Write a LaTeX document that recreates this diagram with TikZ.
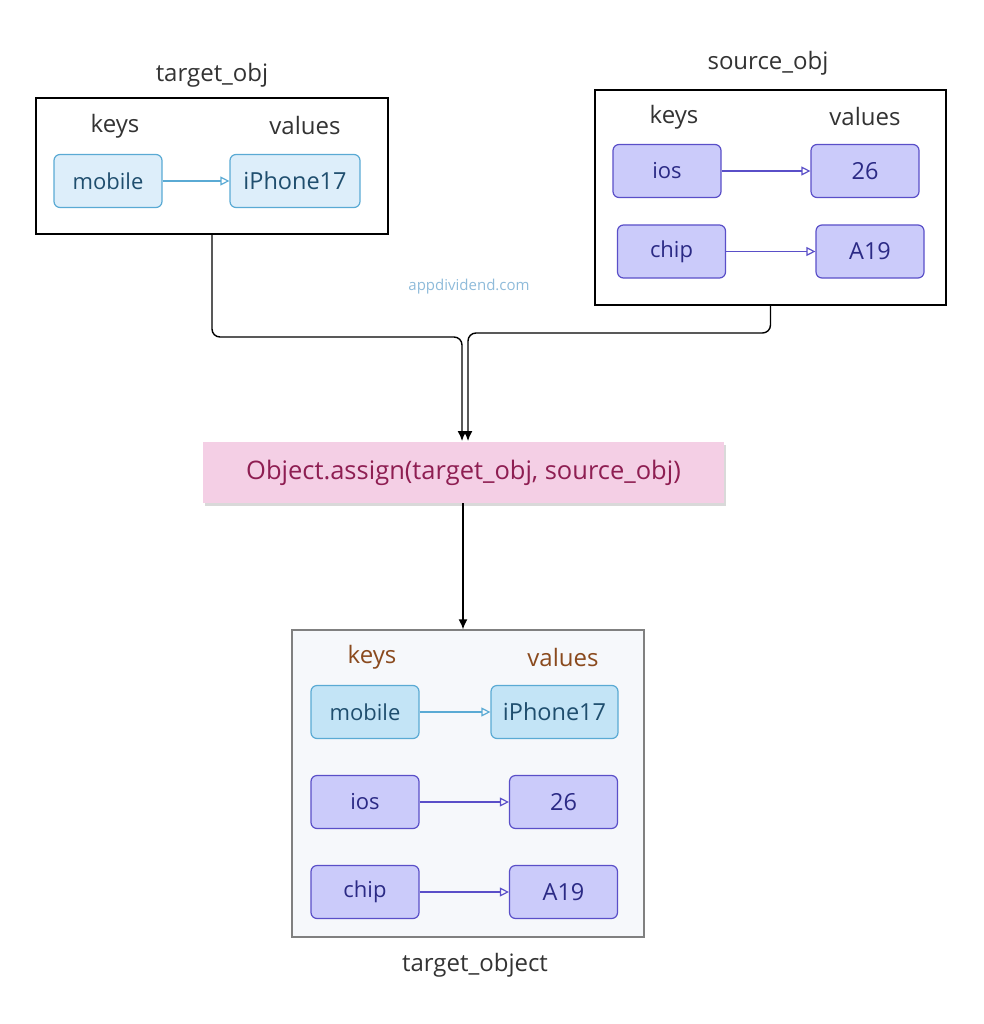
\documentclass[tikz,border=0pt]{standalone}
\usepackage{fontspec}
\setmainfont{Open Sans}
\usetikzlibrary{arrows.meta,shadows}
\definecolor{lbfill}{HTML}{DDEEFA}
\definecolor{lbfill2}{HTML}{C3E4F6}
\definecolor{lbdraw}{HTML}{5AAAD4}
\definecolor{lbtext}{HTML}{1F4E6E}
\definecolor{pfill}{HTML}{CBCBFA}
\definecolor{pdraw}{HTML}{5A4FC8}
\definecolor{ptext}{HTML}{2B2A85}
\definecolor{pinkfill}{HTML}{F4CFE5}
\definecolor{pinktext}{HTML}{8E1E52}
\definecolor{brownt}{HTML}{8A4A1E}
\definecolor{greyt}{HTML}{333333}
\definecolor{wm}{HTML}{8FBBDA}
\definecolor{resfill}{HTML}{F6F8FB}
\tikzset{
  kv/.style={draw, rounded corners=6pt, line width=1.2pt, minimum width=108pt, minimum height=53pt, inner sep=0pt, font=\fontsize{22}{26}\selectfont},
  kvb/.style={kv, fill=lbfill, draw=lbdraw, text=lbtext},
  kvb2/.style={kv, fill=lbfill2, draw=lbdraw, text=lbtext},
  kvp/.style={kv, fill=pfill, draw=pdraw, text=ptext},
  keyf/.style={font=\fontsize{22}{26}\selectfont},
  valf/.style={font=\fontsize{23.5}{27}\selectfont},
  outer/.style={draw=black, line width=1.4pt, inner sep=0pt},
  hdr/.style={font=\fontsize{24}{28}\selectfont, text=greyt},
  ttl/.style={font=\fontsize{24}{28}\selectfont, text=greyt},
  lnb/.style={draw=lbdraw, line width=1.2pt, -{Triangle[open,length=9pt,width=9pt]}},
  lnp/.style={draw=pdraw, line width=1.2pt, -{Triangle[open,length=9pt,width=9pt]}},
  conn/.style={draw=black, line width=1.4pt, rounded corners=8pt},
}
\begin{document}
\begin{tikzpicture}[x=1pt,y=-1pt]
\useasboundingbox (0,0) rectangle (983,1024);
% target_obj
\node[ttl] (tlab) at (212,75) {target\_obj};
\node[outer, minimum width=352pt, minimum height=136pt] (tobj) at (212,166) {};
\node[hdr] (tk) at (115,126) {keys};
\node[hdr] (tv) at (305,126) {values};
\node[kvb, keyf] (tm) at (108,181) {mobile};
\node[kvb, valf, minimum width=130pt] (ti) at (295,181) {iPhone17};
\draw[lnb] (tm) -- (ti);
% source_obj
\node[ttl] (slab) at (768,63) {source\_obj};
\node[outer, minimum width=351pt, minimum height=215pt] (sobj) at (770.5,197.5) {};
\node[hdr] (sk) at (674,117) {keys};
\node[hdr] (sv) at (865,117) {values};
\node[kvp, keyf] (sios) at (667,171) {ios};
\node[kvp, valf] (s26) at (865,171) {26};
\node[kvp, keyf] (schip) at (671.5,251.5) {chip};
\node[kvp, valf] (sa19) at (870,251.5) {A19};
\draw[lnp] (sios) -- (s26);
\draw[lnp] (schip) -- (sa19);
% watermark
\node[text=wm, font=\fontsize{15}{18}\selectfont] (wmk) at (469,287) {appdividend.com};
% assign
\node[fill=pinkfill, minimum width=521pt, minimum height=61pt, inner sep=0pt, text=pinktext, font=\fontsize{25.5}{30}\selectfont, drop shadow={shadow xshift=2pt, shadow yshift=-3pt, fill=black!25, opacity=0.6}] (assign) at (463.5,472.5) {Object.assign(target\_obj, source\_obj)};
\coordinate (in1) at (462,441);
\coordinate (in2) at (468,441);
\draw[conn, -{Latex[length=10pt,width=9pt]}] (tobj.south) |- (462,337) -- (in1);
\draw[conn, -{Latex[length=10pt,width=9pt]}] (sobj.south) |- (468,333) -- (in2);
% result
\node[outer, draw=black!50, fill=resfill, minimum width=352pt, minimum height=307pt] (res) at (468,783.5) {};
\draw[conn, -{Latex[length=10pt,width=9pt]}] (assign.south -| 463,0) -- (res.north -| 463,0);
\node[hdr, text=brownt] (rk) at (372,657) {keys};
\node[hdr, text=brownt] (rv) at (563,657) {values};
\node[kvb2, keyf] (rm) at (365,712) {mobile};
\node[kvb2, valf, minimum width=127pt] (ri) at (554.5,712) {iPhone17};
\node[kvp, keyf] (rios) at (365,802) {ios};
\node[kvp, valf] (r26) at (563.5,802) {26};
\node[kvp, keyf] (rchip) at (365,892) {chip};
\node[kvp, valf] (ra19) at (563.5,892) {A19};
\draw[lnb] (rm) -- (ri);
\draw[lnp] (rios) -- (r26);
\draw[lnp] (rchip) -- (ra19);
\node[ttl] (rlab) at (475,965) {target\_object};
\end{tikzpicture}
\end{document}
